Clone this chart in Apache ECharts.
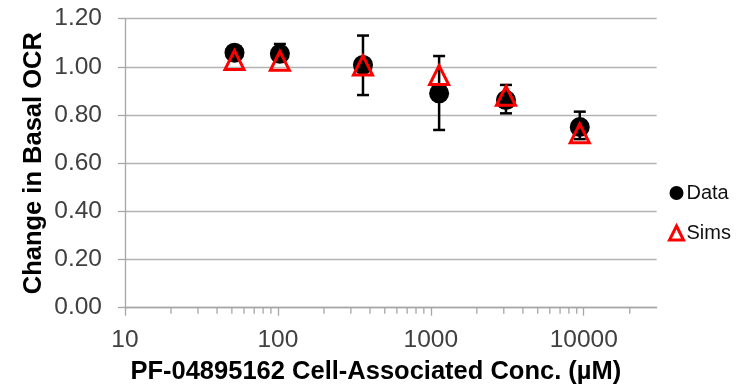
<!DOCTYPE html>
<html>
<head>
<meta charset="utf-8">
<script src="https://cdn.jsdelivr.net/npm/echarts@6/dist/echarts.min.js"></script>
<style>
html,body{margin:0;padding:0;background:#fff;}
#chart{width:746px;height:385px;}
</style>
</head>
<body>
<div id="chart"></div>
<script>
// ---- data ----
const concentrations = [52, 103, 360, 1133, 3100, 9420];
const dataValues = [1.059, 1.054, 1.008, 0.890, 0.862, 0.750];
const errLow  = [1.040, 1.030, 0.883, 0.738, 0.807, 0.700];
const errHigh = [1.078, 1.095, 1.130, 1.045, 0.925, 0.814];
const simValues = [1.028, 1.025, 1.006, 0.966, 0.880, 0.724];
const xTickLabels = ['10', '100', '1000', '10000'];
const xMinorTicks = [20,30,40,50,60,70,80,90,200,300,400,500,600,700,800,900,
                     2000,3000,4000,5000,6000,7000,8000,9000,20000];
const yTickLabels = ['0.00','0.20','0.40','0.60','0.80','1.00','1.20'];

const FONT = '"Liberation Sans", Arial, sans-serif';
const chart = echarts.init(document.getElementById('chart'), null, {renderer: 'canvas'});

const option = {
  animation: false,
  backgroundColor: '#fff',
  grid: {left: 125, top: 18.7, right: 89.3, bottom: 77.3, containLabel: false, outerBoundsMode: 'none'},
  legend: {
    orient: 'vertical',
    left: 663,
    top: 178,
    itemWidth: 14,
    itemHeight: 14,
    itemGap: 20,
    textStyle: {fontFamily: FONT, fontSize: 20, color: '#111', padding: [0,0,0,-2]},
    data: [
      {name: 'Data', icon: 'circle'},
      {name: 'Sims', icon: 'triangle', itemStyle: {color: 'transparent', borderColor: '#ff0000', borderWidth: 3}}
    ]
  },
  xAxis: {
    type: 'log',
    logBase: 10,
    min: 10,
    max: 30000,
    name: 'PF-04895162 Cell-Associated Conc. (\u00b5M)',
    nameLocation: 'middle',
    nameGap: 51,
    nameTextStyle: {fontFamily: FONT, fontSize: 25.5, fontWeight: 'bold', color: '#000', padding: [0, 30, 0, 0]},
    axisLine: {show: true, lineStyle: {color: '#a6a6a6', width: 1.3}},
    axisTick: {show: true, inside: false, length: 8, lineStyle: {color: '#a6a6a6', width: 1.3}},
    minorTick: {show: false},
    splitLine: {show: false},
    axisLabel: {
      fontFamily: FONT, fontSize: 24.5, color: '#404040', margin: 20,
      showMaxLabel: false, showMinLabel: true,
      formatter: function (v) {
        const s = String(Math.round(v));
        return xTickLabels.indexOf(s) >= 0 ? s : '';
      }
    }
  },
  yAxis: {
    type: 'value',
    min: 0,
    max: 1.2,
    interval: 0.2,
    name: 'Change in Basal OCR',
    nameLocation: 'middle',
    nameGap: 78,
    nameMoveOverlap: false,
    nameRotate: 90,
    nameTextStyle: {fontFamily: FONT, fontSize: 25.5, fontWeight: 'bold', color: '#000'},
    axisLine: {show: true, lineStyle: {color: '#a6a6a6', width: 1.3}},
    axisTick: {show: true, inside: false, length: 7, lineStyle: {color: '#a6a6a6', width: 1.3}},
    splitLine: {show: true, lineStyle: {color: '#b3b3b3', width: 1.3}},
    axisLabel: {
      fontFamily: FONT, fontSize: 24.5, color: '#404040', margin: 23,
      formatter: function (v) {
        const i = Math.round(v / 0.2);
        return yTickLabels[i] !== undefined ? yTickLabels[i] : v.toFixed(2);
      }
    }
  },
  series: [
    {
      name: 'minorTicks',
      type: 'custom',
      silent: true,
      clip: false,
      z: 1,
      data: xMinorTicks.map(v => [v, 0]),
      encode: {x: 0, y: 1},
      renderItem: function (params, api) {
        const p = api.coord([api.value(0), 0]);
        return {
          type: 'line',
          shape: {x1: p[0], y1: p[1], x2: p[0], y2: p[1] + 6},
          style: {stroke: '#a6a6a6', lineWidth: 1.3}
        };
      }
    },
    {
      name: 'errorBars',
      type: 'custom',
      silent: true,
      z: 2,
      data: concentrations.map((c, i) => [c, errLow[i], errHigh[i]]),
      encode: {x: 0, y: [1, 2]},
      renderItem: function (params, api) {
        const x = api.value(0);
        const pHi = api.coord([x, api.value(2)]);
        const pLo = api.coord([x, api.value(1)]);
        const cap = 6;
        const st = {stroke: '#000', lineWidth: 2.5};
        return {
          type: 'group',
          children: [
            {type: 'line', shape: {x1: pHi[0], y1: pHi[1], x2: pLo[0], y2: pLo[1]}, style: st},
            {type: 'line', shape: {x1: pHi[0] - cap, y1: pHi[1], x2: pHi[0] + cap, y2: pHi[1]}, style: st},
            {type: 'line', shape: {x1: pLo[0] - cap, y1: pLo[1], x2: pLo[0] + cap, y2: pLo[1]}, style: st}
          ]
        };
      }
    },
    {
      name: 'Data',
      type: 'scatter',
      z: 3,
      symbol: 'circle',
      symbolSize: 20,
      itemStyle: {color: '#000', opacity: 1},
      data: concentrations.map((c, i) => [c, dataValues[i]])
    },
    {
      name: 'Sims',
      type: 'scatter',
      z: 4,
      symbol: 'triangle',
      symbolSize: [19, 19],
      itemStyle: {color: 'transparent', borderColor: '#ff0000', borderWidth: 3, opacity: 1},
      data: concentrations.map((c, i) => [c, simValues[i]])
    }
  ]
};
chart.setOption(option);
</script>
</body>
</html>
